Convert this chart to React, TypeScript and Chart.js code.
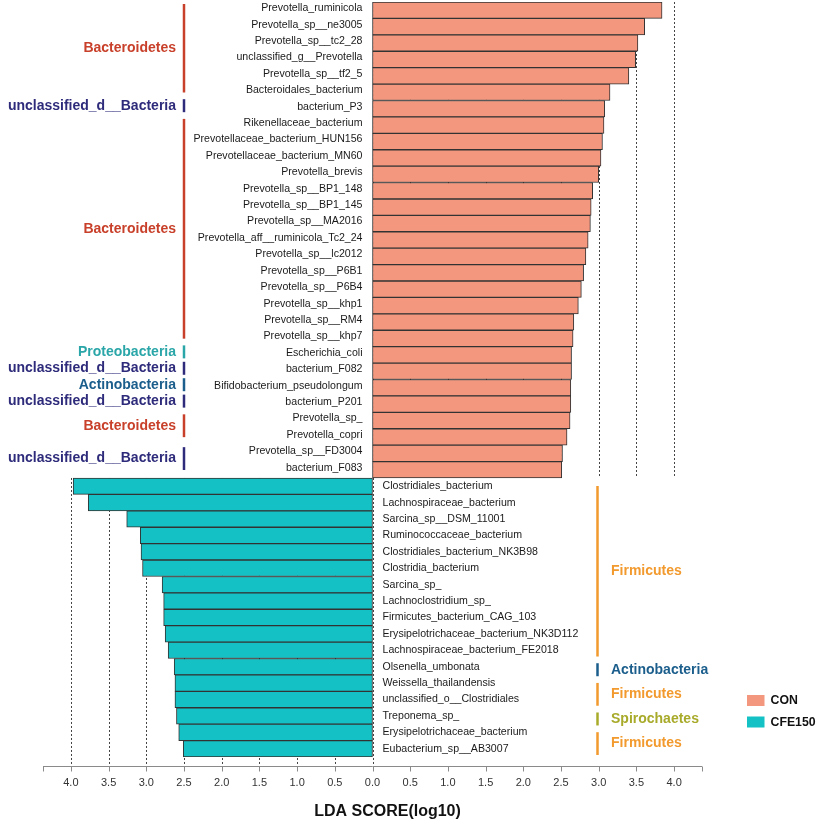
import React, { useEffect, useRef } from 'react';
import { Chart, registerables } from 'chart.js';

Chart.register(...registerables);

// ---------- DATA ----------
const conSpecies = [
  'Prevotella_ruminicola',
  'Prevotella_sp__ne3005',
  'Prevotella_sp__tc2_28',
  'unclassified_g__Prevotella',
  'Prevotella_sp__tf2_5',
  'Bacteroidales_bacterium',
  'bacterium_P3',
  'Rikenellaceae_bacterium',
  'Prevotellaceae_bacterium_HUN156',
  'Prevotellaceae_bacterium_MN60',
  'Prevotella_brevis',
  'Prevotella_sp__BP1_148',
  'Prevotella_sp__BP1_145',
  'Prevotella_sp__MA2016',
  'Prevotella_aff__ruminicola_Tc2_24',
  'Prevotella_sp__lc2012',
  'Prevotella_sp__P6B1',
  'Prevotella_sp__P6B4',
  'Prevotella_sp__khp1',
  'Prevotella_sp__RM4',
  'Prevotella_sp__khp7',
  'Escherichia_coli',
  'bacterium_F082',
  'Bifidobacterium_pseudolongum',
  'bacterium_P201',
  'Prevotella_sp_',
  'Prevotella_copri',
  'Prevotella_sp__FD3004',
  'bacterium_F083',
];
const conScores = [
  3.84, 3.61, 3.52, 3.49, 3.40, 3.15, 3.08, 3.07, 3.05, 3.03,
  3.00, 2.92, 2.90, 2.89, 2.86, 2.83, 2.80, 2.77, 2.73, 2.67,
  2.66, 2.64, 2.64, 2.63, 2.63, 2.62, 2.58, 2.52, 2.51,
];

const cfeSpecies = [
  'Clostridiales_bacterium',
  'Lachnospiraceae_bacterium',
  'Sarcina_sp__DSM_11001',
  'Ruminococcaceae_bacterium',
  'Clostridiales_bacterium_NK3B98',
  'Clostridia_bacterium',
  'Sarcina_sp_',
  'Lachnoclostridium_sp_',
  'Firmicutes_bacterium_CAG_103',
  'Erysipelotrichaceae_bacterium_NK3D112',
  'Lachnospiraceae_bacterium_FE2018',
  'Olsenella_umbonata',
  'Weissella_thailandensis',
  'unclassified_o__Clostridiales',
  'Treponema_sp_',
  'Erysipelotrichaceae_bacterium',
  'Eubacterium_sp__AB3007',
];
const cfeScores = [
  3.97, 3.77, 3.26, 3.08, 3.07, 3.05, 2.79, 2.77, 2.77, 2.75,
  2.71, 2.63, 2.62, 2.62, 2.60, 2.57, 2.51,
];

const conPhyla = [
  'Bacteroidetes',
  'unclassified_d__Bacteria',
  'Bacteroidetes',
  'Proteobacteria',
  'unclassified_d__Bacteria',
  'Actinobacteria',
  'unclassified_d__Bacteria',
  'Bacteroidetes',
  'unclassified_d__Bacteria',
];
const conPhylaCounts = [6, 1, 14, 1, 1, 1, 1, 2, 2];

const cfePhyla = ['Firmicutes', 'Actinobacteria', 'Firmicutes', 'Spirochaetes', 'Firmicutes'];
const cfePhylaCounts = [11, 1, 2, 1, 2];

const xTicks = [-4, -3.5, -3, -2.5, -2, -1.5, -1, -0.5, 0, 0.5, 1, 1.5, 2, 2.5, 3, 3.5, 4];
const groupNames = ['CON', 'CFE150'];
const axisTitle = 'LDA SCORE(log10)';

// ---------- STYLES ----------
const FONT = '"Liberation Sans", Arial, Helvetica, sans-serif';
const groupColors = ['#F4977F', '#14C1C4'];
const phylumColors: Record<string, string> = {
  Bacteroidetes: '#C8402A',
  unclassified_d__Bacteria: '#2E2B7B',
  Proteobacteria: '#2AA6A8',
  Actinobacteria: '#1B5E8C',
  Firmicutes: '#F29A2E',
  Spirochaetes: '#A8AA2A',
};

const overlay = {
  id: 'ldaOverlay',
  beforeDatasetsDraw(chart: any) {
    const { ctx, chartArea, scales } = chart;
    const x = scales.x;
    const y = scales.y;
    const nTop = conSpecies.length;
    const rowH = y.getPixelForValue(1) - y.getPixelForValue(0);
    const split = y.getPixelForValue(nTop - 1) + rowH / 2;
    const axisY = chartArea.bottom + 9.5;
    ctx.save();
    ctx.strokeStyle = '#444';
    ctx.lineWidth = 1;
    ctx.setLineDash([2, 2]);
    xTicks.filter((v) => v >= 0).forEach((v) => {
      const px = Math.round(x.getPixelForValue(v)) + 0.5;
      ctx.beginPath();
      ctx.moveTo(px, chartArea.top);
      ctx.lineTo(px, split);
      ctx.stroke();
      const nx = Math.round(x.getPixelForValue(-v)) + 0.5;
      ctx.beginPath();
      ctx.moveTo(nx, split);
      ctx.lineTo(nx, axisY);
      ctx.stroke();
    });
    ctx.restore();
  },
  afterDatasetsDraw(chart: any) {
    const { ctx, chartArea, scales } = chart;
    const x = scales.x;
    const y = scales.y;
    const nTop = conSpecies.length;
    const rowH = y.getPixelForValue(1) - y.getPixelForValue(0);
    const zeroX = x.getPixelForValue(0);
    ctx.save();

    // species labels
    ctx.font = `10.6px ${FONT}`;
    ctx.fillStyle = '#1a1a1a';
    ctx.textBaseline = 'middle';
    ctx.textAlign = 'right';
    conSpecies.forEach((s, i) => {
      ctx.fillText(s, zeroX - 10, y.getPixelForValue(i) - 2);
    });
    ctx.textAlign = 'left';
    cfeSpecies.forEach((s, i) => {
      ctx.fillText(s, zeroX + 10, y.getPixelForValue(nTop + i));
    });

    // phylum groups
    const drawGroups = (names: string[], counts: number[], startRow: number, side: 'left' | 'right') => {
      let row = startRow;
      names.forEach((name, gi) => {
        const n = counts[gi];
        const top = y.getPixelForValue(row) - rowH / 2;
        const bottom = y.getPixelForValue(row + n - 1) + rowH / 2;
        const center = (top + bottom) / 2 + (side === 'left' ? -3 : 3);
        const len = Math.max(n * rowH - 10, 13);
        const color = phylumColors[name];
        const lx = side === 'left' ? 184 : 597.5;
        ctx.strokeStyle = color;
        ctx.lineWidth = 2.5;
        ctx.setLineDash([]);
        ctx.beginPath();
        ctx.moveTo(lx, center - len / 2);
        ctx.lineTo(lx, center + len / 2);
        ctx.stroke();
        ctx.fillStyle = color;
        ctx.font = `bold 14px ${FONT}`;
        ctx.textBaseline = 'middle';
        if (side === 'left') {
          ctx.textAlign = 'right';
          ctx.fillText(name, 176, center);
        } else {
          ctx.textAlign = 'left';
          ctx.fillText(name, 611, center);
        }
        row += n;
      });
    };
    drawGroups(conPhyla, conPhylaCounts, 0, 'left');
    drawGroups(cfePhyla, cfePhylaCounts, nTop, 'right');

    // x axis
    const axisY = Math.round(chartArea.bottom + 9) + 0.5;
    ctx.strokeStyle = '#8a8a8a';
    ctx.lineWidth = 1;
    ctx.setLineDash([]);
    ctx.beginPath();
    ctx.moveTo(chartArea.left, axisY);
    ctx.lineTo(chartArea.right, axisY);
    ctx.stroke();
    const tickPos = [x.min, ...xTicks, x.max];
    tickPos.forEach((v) => {
      const px = Math.round(x.getPixelForValue(v)) + 0.5;
      ctx.beginPath();
      ctx.moveTo(px, axisY);
      ctx.lineTo(px, axisY + 5);
      ctx.stroke();
    });
    ctx.fillStyle = '#333';
    ctx.font = `11px ${FONT}`;
    ctx.textAlign = 'center';
    ctx.textBaseline = 'middle';
    xTicks.forEach((v) => {
      ctx.fillText(Math.abs(v).toFixed(1), x.getPixelForValue(v), axisY + 16.5);
    });

    // title
    ctx.fillStyle = '#111';
    ctx.font = `bold 16px ${FONT}`;
    ctx.fillText(axisTitle, 387.5, 811.5);

    // legend
    groupNames.forEach((g, i) => {
      const ly = 695 + i * 21.5;
      ctx.fillStyle = groupColors[i];
      ctx.fillRect(747, ly, 17.5, 11);
      ctx.fillStyle = '#111';
      ctx.font = `bold 12.3px ${FONT}`;
      ctx.textAlign = 'left';
      ctx.textBaseline = 'middle';
      ctx.fillText(g, 770.5, ly + 5.7);
    });

    ctx.restore();
  },
};

export default function App() {
  const canvasRef = useRef<HTMLCanvasElement | null>(null);

  useEffect(() => {
    const canvas = canvasRef.current;
    if (!canvas) return;
    const labels = [...conSpecies, ...cfeSpecies];
    const conData = [...conScores, ...cfeSpecies.map(() => null)];
    const cfeData = [...conSpecies.map(() => null), ...cfeScores.map((v) => -v)];
    const common = {
      borderColor: '#333',
      borderWidth: 1,
      borderSkipped: false,
      barPercentage: 1,
      categoryPercentage: 1,
      grouped: false,
    };
    const chart = new Chart(canvas, {
      type: 'bar',
      data: {
        labels,
        datasets: [
          { label: groupNames[0], data: conData, backgroundColor: groupColors[0], ...common } as any,
          { label: groupNames[1], data: cfeData, backgroundColor: groupColors[1], ...common } as any,
        ],
      },
      options: {
        indexAxis: 'y',
        responsive: false,
        animation: false,
        maintainAspectRatio: false,
        layout: { padding: { left: 43, right: 115, top: 2, bottom: 65 } },
        scales: {
          x: { type: 'linear', min: -4.37, max: 4.37, display: false },
          y: { display: false, offset: true },
        },
        plugins: {
          legend: { display: false },
          tooltip: { enabled: false },
        },
      },
      plugins: [overlay],
    });
    return () => chart.destroy();
  }, []);

  return (
    <div style={{ position: 'absolute', left: 0, top: 0, width: 817, height: 822, background: '#fff' }}>
      <canvas ref={canvasRef} width={817} height={822} style={{ display: 'block', width: 817, height: 822 }} />
    </div>
  );
}
